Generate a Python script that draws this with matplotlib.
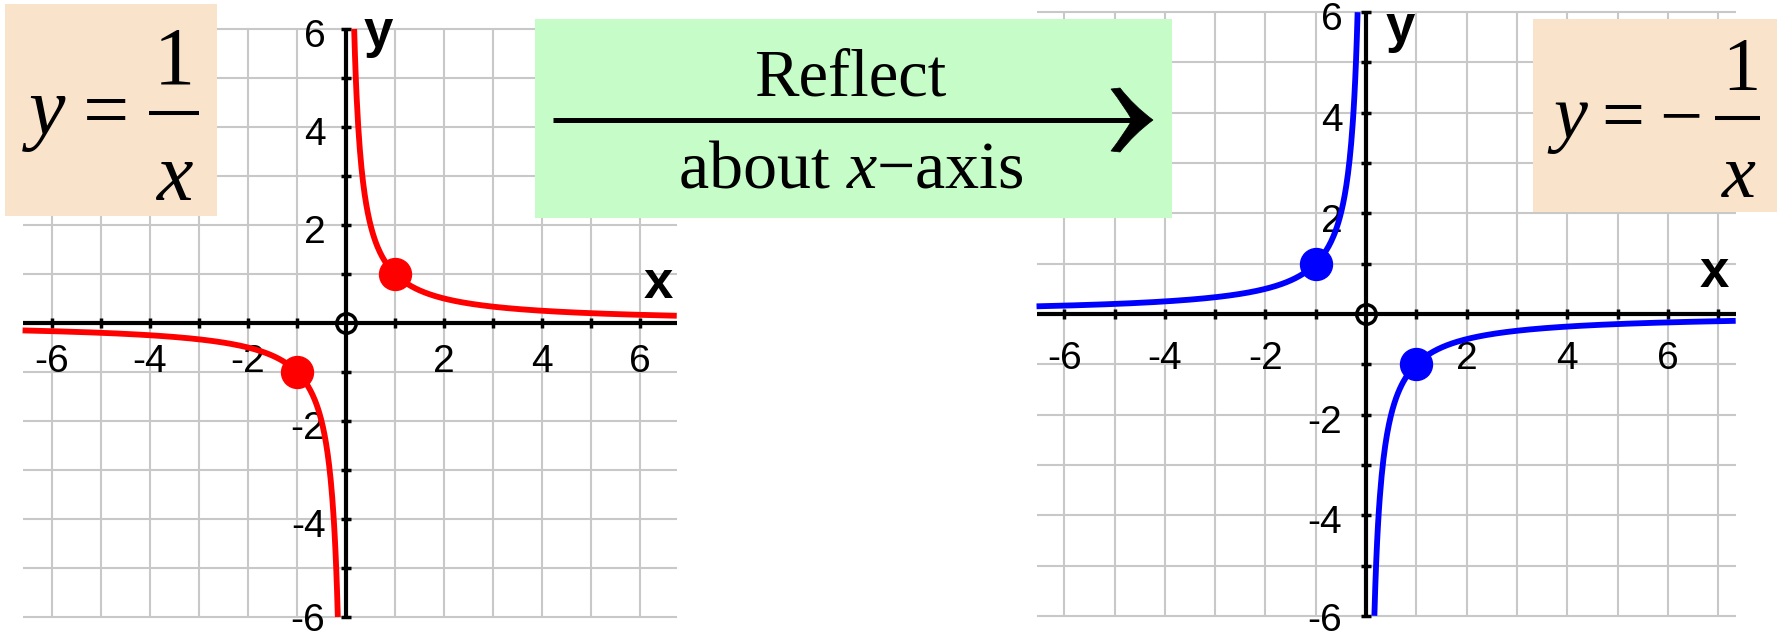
import numpy as np
import matplotlib.pyplot as plt
from matplotlib.path import Path
from matplotlib.patches import PathPatch, Rectangle

plt.rcParams['mathtext.fontset'] = 'custom'
plt.rcParams['mathtext.rm'] = 'Liberation Serif'
plt.rcParams['mathtext.it'] = 'Liberation Serif:italic'

W, H = 1777, 639

# left graph: y = 1/x
left_grid_x = list(range(-6, 7))
left_grid_y = list(range(-6, 7))
left_xspan = (-6.6, 6.75)
left_xticks = [-6, -4, -2, 2, 4, 6]
left_yticks = [6, 4, 2, -2, -4, -6]
left_dots_x = [1, -1]
left_dots_y = [1, -1]

# right graph: y = -1/x
right_grid_x = list(range(-6, 8))
right_grid_y = list(range(-6, 7))
right_xspan = (-6.55, 7.35)
right_xticks = [-6, -4, -2, 2, 4, 6]
right_yticks = [6, 4, 2, -2, -4, -6]
right_dots_x = [-1, 1]
right_dots_y = [1, -1]


def recip(x):
    return 1.0 / x


def neg_recip(x):
    return -1.0 / x


fig = plt.figure(figsize=(W / 100, H / 100), dpi=100)


def make_axes(ox, oy, unit, xlim, ylim):
    # ox, oy = pixel position of the origin, unit = pixels per unit
    left = ox + xlim[0] * unit
    right = ox + xlim[1] * unit
    top = oy - ylim[1] * unit
    bottom = oy - ylim[0] * unit
    ax = fig.add_axes([left / W, 1 - bottom / H, (right - left) / W, (bottom - top) / H])
    ax.set_xlim(xlim)
    ax.set_ylim(ylim)
    ax.axis('off')
    return ax


def draw_graph(ax, grid_x, grid_y, xspan, xticks, yticks, ylbl_x, ylbl_min, xlbl_y,
               fn, color, dots_x, dots_y, xlab, ylab):
    gray = '#c8c8c8'
    ax.hlines(grid_y, xspan[0], xspan[1], color=gray, lw=1.5, zorder=1)
    ax.vlines(grid_x, grid_y[0], grid_y[-1], color=gray, lw=1.5, zorder=1)
    ax.plot(xspan, [0, 0], color='k', lw=3, solid_capstyle='butt', zorder=2)
    ax.plot([0, 0], [grid_y[0], grid_y[-1]], color='k', lw=3,
            solid_capstyle='butt', zorder=2)
    tx = [v for v in grid_x if v != 0]
    ty = [v for v in grid_y if v != 0]
    ax.plot(tx, [0] * len(tx), ls='none', marker='|', ms=7, mew=2.5, color='k', zorder=2)
    ax.plot([0] * len(ty), ty, ls='none', marker='_', ms=7, mew=2.5, color='k', zorder=2)
    ax.plot(0, 0, marker='o', ms=14, mfc='none', mec='k', mew=2.5, zorder=3)

    for v in xticks:
        ax.text(v, xlbl_y, str(v), ha='center', va='baseline', fontsize=28,
                family='Liberation Sans', zorder=3)
    for v in yticks:
        ax.text(ylbl_x, max(v - 0.36, ylbl_min), str(v), ha='right', va='baseline',
                fontsize=28, family='Liberation Sans', zorder=3)

    ax.text(xlab[0], xlab[1], 'x', ha='center', va='baseline', fontsize=38,
            family='Liberation Sans', weight='bold', zorder=3)
    ax.text(ylab[0], ylab[1], 'y', ha='center', va='baseline', fontsize=38,
            family='Liberation Sans', weight='bold', zorder=3)

    xn = np.linspace(xspan[0], -1 / 6, 400)
    xp = np.linspace(1 / 6, xspan[1], 400)
    ax.plot(xn, fn(xn), color=color, lw=4.2, solid_capstyle='butt', zorder=4, clip_on=False)
    ax.plot(xp, fn(xp), color=color, lw=4.2, solid_capstyle='butt', zorder=4, clip_on=False)
    ax.plot(dots_x, dots_y, ls='none', marker='o', ms=23, color=color, zorder=5, clip_on=False)


axl = make_axes(346, 323, 49.0, (-7.0, 6.9), (-6.4, 6.4))
draw_graph(axl, left_grid_x, left_grid_y, left_xspan, left_xticks, left_yticks,
           -0.42, -6.28, -1.0, recip, '#ff0000', left_dots_x, left_dots_y,
           (6.37, 0.51), (0.66, 5.63))

axr = make_axes(1366, 314, 50.3, (-6.8, 7.6), (-6.2, 6.2))
draw_graph(axr, right_grid_x, right_grid_y, right_xspan, right_xticks, right_yticks,
           -0.47, -6.3, -1.1, neg_recip, '#0000ff', right_dots_x, right_dots_y,
           (6.92, 0.54), (0.68, 5.4))

# overlay in pixel coordinates for the boxes
ov = fig.add_axes([0, 0, 1, 1])
ov.set_xlim(0, W)
ov.set_ylim(H, 0)
ov.axis('off')
ov.patch.set_alpha(0)

serif = 'Liberation Serif'

# y = 1/x box
ov.add_patch(Rectangle((5, 4), 212, 212, fc='#f9e3cb', ec='none'))
ov.text(47, 134.5, 'y', fontsize=59, family=serif, style='italic', ha='center', va='baseline')
ov.text(106, 137, '=', fontsize=59, family=serif, ha='center', va='baseline')
ov.plot([149, 199], [113, 113], color='k', lw=2.9, solid_capstyle='butt')
ov.text(174, 83, '1', fontsize=59, family=serif, ha='center', va='baseline')
ov.text(175, 200, 'x', fontsize=59, family=serif, style='italic', ha='center', va='baseline')

# y = -1/x box
ov.add_patch(Rectangle((1533, 19), 244, 193, fc='#f9e3cb', ec='none'))
ov.text(1570, 138.5, 'y', fontsize=55, family=serif, style='italic', ha='center', va='baseline')
ov.text(1623, 140, '=', fontsize=55, family=serif, ha='center', va='baseline')
ov.text(1681, 140, '\u2212', fontsize=55, family=serif, ha='center', va='baseline')
ov.plot([1715, 1760], [118, 118], color='k', lw=2.9, solid_capstyle='butt')
ov.text(1741, 90, '1', fontsize=55, family=serif, ha='center', va='baseline')
ov.text(1739, 197, 'x', fontsize=55, family=serif, style='italic', ha='center', va='baseline')

# reflect box with arrow
ov.add_patch(Rectangle((535, 19), 637, 199, fc='#c6fcc8', ec='none'))
ov.text(850, 95, 'Reflect', fontsize=48, family=serif, ha='center', va='baseline')
ov.text(851, 187, 'about $x$\u2212axis', fontsize=49, family=serif, ha='center', va='baseline')
ov.plot([553, 1134], [120, 120], color='k', lw=3.6, solid_capstyle='butt')
verts = [(1120, 88), (1134, 106), (1153, 120), (1134, 134), (1120, 152),
         (1111, 151), (1124, 134), (1132, 120), (1124, 106), (1111, 89), (1120, 88)]
codes = [Path.MOVETO, Path.CURVE3, Path.CURVE3, Path.CURVE3, Path.CURVE3,
         Path.LINETO, Path.CURVE3, Path.CURVE3, Path.CURVE3, Path.CURVE3, Path.CLOSEPOLY]
ov.add_patch(PathPatch(Path(verts, codes), fc='k', ec='k', lw=0.5))

fig.savefig('out.png', dpi=100)
